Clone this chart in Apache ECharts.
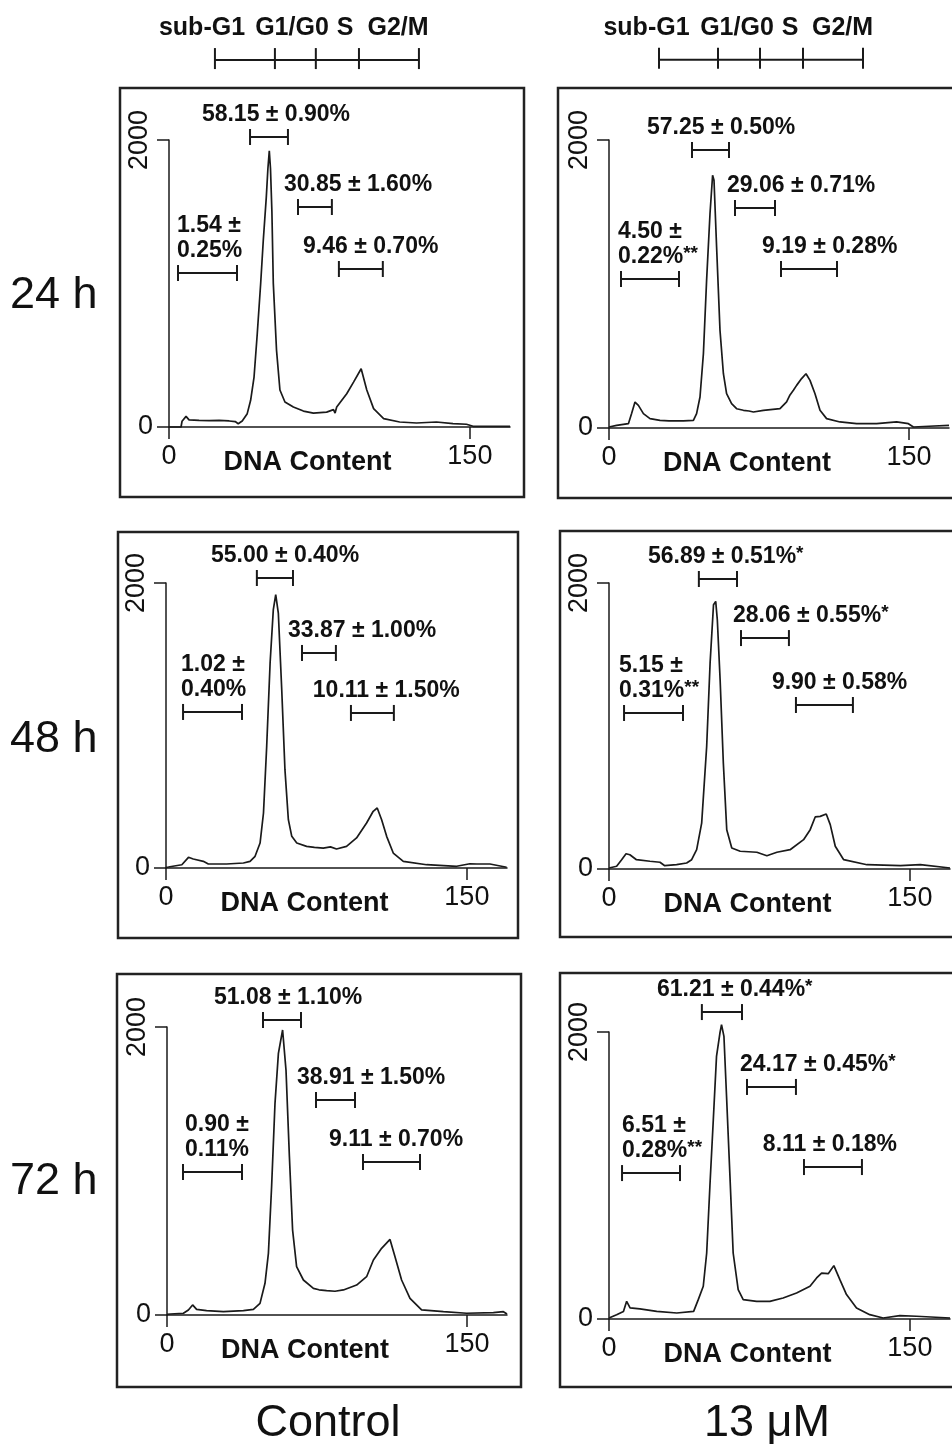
<!DOCTYPE html>
<html><head><meta charset="utf-8">
<script src="https://cdn.jsdelivr.net/npm/echarts@6/dist/echarts.min.js"></script>
<style>html,body{margin:0;padding:0;background:#fff}#c{width:952px;height:1446px}</style>
</head><body><div id="c"></div>
<script>
// ---------- text ----------
const rowLabels = ['24 h', '48 h', '72 h'];
const colLabels = ['Control', '13 μM'];
const phaseLabels = ['sub-G1', 'G1/G0', 'S', 'G2/M'];
const xAxisName = 'DNA Content';
const xTicks = [0, 150];
const yTicksAll = [0, 2000];

// ---------- histograms [DNA content, count] ----------
const hist24Control = [[0,0],[6,0],[6.5,40],[8.5,74],[10,50],[15,46],[20,44],[25,46],[30,42],[33,38],[34.5,23],[36.5,42],[39,93],[40.7,186],[42.4,348],[44,650],[45.7,1000],[47,1300],[48.5,1600],[49.3,1800],[50,1925],[50.6,1800],[51.3,1500],[52,1001],[53.6,536],[55.3,258],[57.8,174],[62,139],[67,111],[72,97],[78.6,104],[82,121],[82.8,97],[83.6,139],[88.6,232],[92,313],[95.8,406],[98.6,258],[102,128],[107,58],[115,35],[123.4,28],[133.3,35],[141.6,23],[148.3,19],[151.6,5],[170,5]];
const hist24Treated = [[0,7],[3.8,18],[9.7,30],[11.3,100],[13,180],[14.7,157],[17.2,100],[20.5,65],[25.5,53],[30,50],[37.2,49],[42.2,53],[43.8,100],[45.5,215],[47.2,516],[48.8,1025],[50.5,1488],[51.8,1755],[52.5,1720],[53.8,1257],[55.5,678],[57.2,377],[58.8,238],[61.3,169],[63.8,134],[67.2,123],[70,118],[72.2,111],[77.2,123],[85.5,134],[88.8,181],[90.5,230],[92.2,262],[93.8,296],[96.3,343],[98.5,377],[100.5,331],[103,238],[105.5,123],[108.8,65],[115.5,42],[123.8,30],[133.8,30],[143.8,42],[149.7,30],[152.2,7],[160,12],[170,18]];
const hist48Control = [[0,5],[1.2,7],[7.9,23],[11.2,75],[13.6,63],[18.6,47],[21.1,28],[30.2,28],[38.6,35],[41.9,47],[44.4,82],[46.9,175],[48.6,386],[50.2,854],[51.9,1439],[53.5,1813],[54.7,1918],[56,1789],[57.7,1251],[59.3,690],[61,339],[62.7,222],[65.2,175],[70.1,152],[74,145],[78.4,140],[82,148],[85,133],[90,152],[95,211],[100,316],[103.3,398],[105.3,421],[107.5,339],[110,222],[113.3,105],[118.3,47],[129.9,23],[144.9,12],[151.5,30],[155,28],[161.5,28],[169.8,5]];
const hist48Treated = [[0,7],[3.8,19],[6.3,65],[8.5,107],[10.4,100],[13.7,65],[20.4,54],[25.4,47],[27.8,23],[33.7,30],[38.7,42],[41.2,65],[43.7,135],[46.2,321],[48.7,858],[50.4,1440],[52.1,1848],[53.2,1871],[54,1743],[55.4,1324],[57,741],[58.7,275],[61.2,147],[65.4,124],[73.7,117],[78.7,93],[83.7,117],[90.3,135],[97,205],[100.3,275],[102.8,364],[105.3,368],[108.3,385],[110.3,310],[112.8,159],[117,65],[128.6,30],[145.3,23],[155.2,30],[170,7]];
const hist72Control = [[0,5],[1.7,7],[8.2,12],[10.7,35],[12.8,70],[14.8,39],[19.8,30],[28.2,23],[38.2,30],[43.2,39],[46.5,81],[49,220],[50.7,428],[52.3,891],[54,1470],[55.7,1817],[57.8,1979],[59.5,1701],[61.2,1100],[62.8,590],[64.8,336],[68.2,243],[73.2,185],[76,175],[79.8,169],[84,165],[88.2,174],[94.8,208],[99.8,266],[103.2,382],[107.3,463],[111.5,525],[114,405],[117.3,243],[121.5,116],[127.3,35],[138.2,23],[149.8,12],[163.2,16],[168.2,23],[170,7]];
const hist72Treated = [[0,7],[3.8,30],[7.2,53],[8.8,123],[10.5,77],[15.4,70],[23.8,53],[33.8,42],[42.2,53],[44.5,135],[47,228],[48.7,460],[50.3,925],[52,1389],[53.6,1830],[55.3,1993],[56.1,2051],[57.3,1970],[58.6,1552],[60.3,994],[61.9,460],[64.4,204],[66.9,135],[73.6,123],[80.2,123],[86.8,146],[93.5,181],[100.2,228],[103.5,286],[106,320],[109.3,316],[112.1,372],[115.1,274],[118.4,170],[123.4,77],[130,30],[136.7,7],[145,23],[153.3,19],[170,7]];

// ---------- phase percentages (sub-G1, G1/G0, S, G2/M) ----------
const mean24Control = [1.54, 58.15, 30.85, 9.46];
const sd24Control   = [0.25, 0.90, 1.60, 0.70];
const sig24Control  = ['', '', '', ''];
const mean24Treated = [4.50, 57.25, 29.06, 9.19];
const sd24Treated   = [0.22, 0.50, 0.71, 0.28];
const sig24Treated  = ['**', '', '', ''];
const mean48Control = [1.02, 55.00, 33.87, 10.11];
const sd48Control   = [0.40, 0.40, 1.00, 1.50];
const sig48Control  = ['', '', '', ''];
const mean48Treated = [5.15, 56.89, 28.06, 9.90];
const sd48Treated   = [0.31, 0.51, 0.55, 0.58];
const sig48Treated  = ['**', '*', '*', ''];
const mean72Control = [0.90, 51.08, 38.91, 9.11];
const sd72Control   = [0.11, 1.10, 1.50, 0.70];
const sig72Control  = ['', '', '', ''];
const mean72Treated = [6.51, 61.21, 24.17, 8.11];
const sd72Treated   = [0.28, 0.44, 0.45, 0.18];
const sig72Treated  = ['**', '*', '*', ''];

// ---------- gates [start, end] in DNA content ----------
const gates24Control = [[4.5,33.9],[40.4,59.3],[64.3,81.2],[84.7,106.6]];
const gates24Treated = [[6,35],[41.5,60],[63,83],[86,114]];
const gates48Control = [[8.5,37.9],[45.3,63.3],[67.8,84.7],[92.2,113.6]];
const gates48Treated = [[7.5,36.9],[44.8,63.8],[65.8,89.7],[93.2,121.6]];
const gates72Control = [[8,37.5],[48,67],[74.5,94],[98,126.5]];
const gates72Treated = [[6.5,35.4],[46.3,66.3],[68.8,93.2],[97.2,126.1]];
const rulerControl = [22.9, 52.8, 73.2, 94.7, 124.6];
const rulerTreated = [25, 54.5, 75.5, 97, 127];

// ---------- layout (annotation placement, not data) ----------
const FONT = '"Liberation Sans", Arial, Helvetica, sans-serif';
const bracketLevel = [
  [1073, 2021, 1533, 1101], [1035, 1931, 1528, 1104],
  [1095, 2035, 1509, 1088], [1091, 2028, 1615, 1147],
  [993, 2049, 1493, 1063], [1017, 2139, 1617, 1059]
];
const labelLeft = [
  [4.0, 16.4, 57.3, 66.8], [4.5, 19, 59, 76.5],
  [7.5, 22.4, 60.8, 73.2], [5, 19.4, 61.8, 81.2],
  [9, 23.5, 65, 81], [6.5, 23.9, 65.3, 76.7]
];
const rulerLevel = 2557;
const gridBox = [ // left, top, width, height of plotting area
  [169, 140, 341, 287], [609, 140, 340, 288],
  [166, 583, 341, 285], [609, 583, 341, 286],
  [167, 1027, 340, 288], [609, 1032, 341, 287]
];
const frameBox = [
  [120, 88, 404, 409], [558, 88, 410, 410],
  [118, 532, 400, 406], [560, 531, 410, 406],
  [117, 974, 404, 413], [560, 973, 410, 414]
];

const panels = [
  {hist: hist24Control, mean: mean24Control, sd: sd24Control, sig: sig24Control, gates: gates24Control},
  {hist: hist24Treated, mean: mean24Treated, sd: sd24Treated, sig: sig24Treated, gates: gates24Treated},
  {hist: hist48Control, mean: mean48Control, sd: sd48Control, sig: sig48Control, gates: gates48Control},
  {hist: hist48Treated, mean: mean48Treated, sd: sd48Treated, sig: sig48Treated, gates: gates48Treated},
  {hist: hist72Control, mean: mean72Control, sd: sd72Control, sig: sig72Control, gates: gates72Control},
  {hist: hist72Treated, mean: mean72Treated, sd: sd72Treated, sig: sig72Treated, gates: gates72Treated}
];

const INK = '#1a1a1a';
const plain = v => String(v);
function fmtLabel(p, i) {
  const m = p.mean[i].toFixed(2), s = p.sd[i].toFixed(2);
  const star = p.sig[i] ? '{sup|' + p.sig[i] + '}' : '';
  return i === 0 ? (m + ' ±\n' + s + '%' + star) : (m + ' ± ' + s + '%' + star);
}

const grids = [], xAxes = [], yAxes = [], series = [];
panels.forEach((p, k) => {
  const g = gridBox[k];
  grids.push({left: g[0], top: g[1], width: g[2], height: g[3], containLabel: false, outerBoundsMode: 'none'});
  xAxes.push({
    type: 'value', gridIndex: k, min: 0, max: 170,
    axisLine: {show: true, onZero: false, lineStyle: {color: INK, width: 1.5}},
    axisTick: {show: true, inside: false, length: 12, customValues: xTicks, lineStyle: {color: INK, width: 1.5}},
    axisLabel: {show: true, customValues: xTicks, formatter: plain, margin: 16, fontSize: 27, color: '#111', fontFamily: FONT},
    splitLine: {show: false},
    name: xAxisName, nameLocation: 'middle', nameGap: 22, nameMoveOverlap: false,
    nameTextStyle: {fontSize: 27, fontWeight: 'bold', color: '#111', fontFamily: FONT, padding: [0, 64, 0, 0], verticalAlign: 'top'}
  });
  yAxes.push({
    type: 'value', gridIndex: k, min: 0, max: 2000, position: 'left',
    axisLine: {show: true, onZero: false, lineStyle: {color: INK, width: 1.5}},
    axisTick: {show: true, inside: false, length: 12, customValues: yTicksAll, lineStyle: {color: INK, width: 1.5}},
    axisLabel: {show: true, customValues: [yTicksAll[0]], formatter: plain, margin: 16, fontSize: 27, color: '#111', fontFamily: FONT},
    splitLine: {show: false}
  });
  yAxes.push({
    type: 'value', gridIndex: k, min: 0, max: 2000, position: 'left', offset: 0,
    axisLine: {show: false}, axisTick: {show: false},
    axisLabel: {show: true, customValues: [yTicksAll[1]], formatter: plain, rotate: 90, margin: 16, fontSize: 27, color: '#111', fontFamily: FONT},
    splitLine: {show: false}
  });
  series.push({
    type: 'line', xAxisIndex: k, yAxisIndex: k * 2, data: p.hist,
    showSymbol: false, symbol: 'none', clip: false, silent: true,
    lineStyle: {color: INK, width: 1.7}
  });
  const texts = p.mean.map((_, i) => fmtLabel(p, i));
  series.push({
    type: 'custom', xAxisIndex: k, yAxisIndex: k * 2, clip: false, silent: true,
    data: p.gates.map((gt, i) => [gt[0], gt[1], bracketLevel[k][i], labelLeft[k][i]]),
    renderItem: function (params, api) {
      const i = params.dataIndex;
      const a = api.coord([api.value(0), api.value(2)]);
      const b = api.coord([api.value(1), api.value(2)]);
      const lx = api.coord([api.value(3), api.value(2)])[0];
      const st = {stroke: INK, lineWidth: 2};
      return {type: 'group', children: [
        {type: 'line', shape: {x1: a[0], y1: a[1], x2: b[0], y2: b[1]}, style: st},
        {type: 'line', shape: {x1: a[0], y1: a[1] - 8, x2: a[0], y2: a[1] + 8}, style: st},
        {type: 'line', shape: {x1: b[0], y1: b[1] - 8, x2: b[0], y2: b[1] + 8}, style: st},
        {type: 'text', x: lx, y: a[1] - (i === 0 ? 35 : 22), style: {
          text: texts[i], fill: '#111', fontSize: 23, fontWeight: 'bold', fontFamily: FONT,
          align: 'left', verticalAlign: 'middle', lineHeight: 25,
          rich: {sup: {fontSize: 19, fontWeight: 'bold', fontFamily: FONT, fill: '#111', verticalAlign: 'top', lineHeight: 25}}
        }}
      ]};
    }
  });
});

// phase ruler above each column (drawn in the top panel's coordinates)
[rulerControl, rulerTreated].forEach((r, c) => {
  series.push({
    type: 'custom', xAxisIndex: c, yAxisIndex: c * 2, clip: false, silent: true,
    data: r.map(v => [v, rulerLevel]),
    renderItem: function (params, api) {
      const i = params.dataIndex;
      const pt = api.coord([api.value(0), api.value(1)]);
      const st = {stroke: INK, lineWidth: 2};
      const ch = [{type: 'line', shape: {x1: pt[0], y1: pt[1] - 12, x2: pt[0], y2: pt[1] + 9}, style: st}];
      if (i < r.length - 1) {
        const nx = api.coord([r[i + 1], rulerLevel]);
        ch.push({type: 'line', shape: {x1: pt[0], y1: pt[1], x2: nx[0], y2: nx[1]}, style: st});
      }
      return {type: 'group', children: ch};
    }
  });
});

const graphic = [];
frameBox.forEach(f => graphic.push({type: 'rect', shape: {x: f[0], y: f[1], width: f[2], height: f[3]}, style: {fill: 'none', stroke: '#222', lineWidth: 2.5}, silent: true}));
const rowY = [296, 740, 1182];
rowLabels.forEach((t, i) => graphic.push({type: 'text', x: 10, y: rowY[i], style: {text: t, fontSize: 45, fontFamily: FONT, fill: '#111', align: 'left', verticalAlign: 'middle'}}));
const colX = [328, 767];
colLabels.forEach((t, i) => graphic.push({type: 'text', x: colX[i], y: 1424, style: {text: t, fontSize: 45, fontFamily: FONT, fill: '#111', align: 'center', verticalAlign: 'middle'}}));
const phaseX = [[202, 292, 345, 398], [646.5, 737, 790, 842.5]];
phaseX.forEach(row => row.forEach((x, i) => graphic.push({type: 'text', x: x, y: 28, style: {text: phaseLabels[i], fontSize: 25, fontWeight: 'bold', fontFamily: FONT, fill: '#111', align: 'center', verticalAlign: 'middle'}})));

const chart = echarts.init(document.getElementById('c'), null, {renderer: 'canvas'});
chart.setOption({
  animation: false,
  backgroundColor: '#fff',
  grid: grids, xAxis: xAxes, yAxis: yAxes, series: series, graphic: graphic
});
</script></body></html>
